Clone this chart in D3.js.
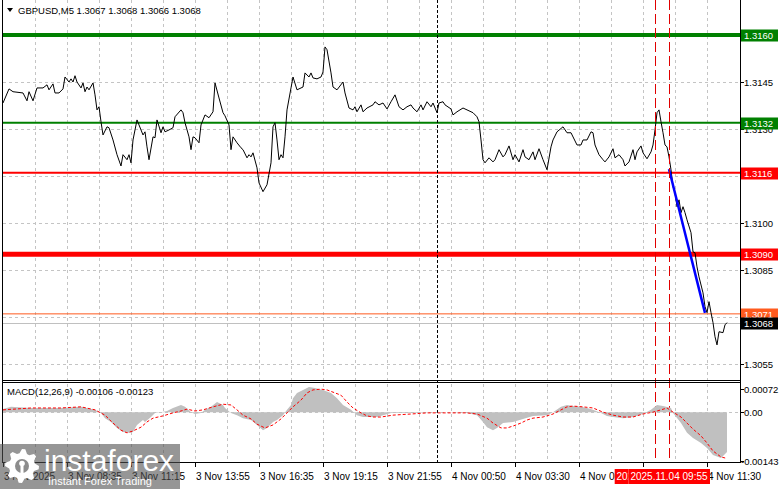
<!DOCTYPE html>
<html><head><meta charset="utf-8">
<script src="https://cdn.jsdelivr.net/npm/d3@7"></script>
<style>
body{margin:0;background:#fff}
svg{display:block}
text{font-family:"Liberation Sans",Arial,sans-serif}
</style>
</head><body>
<svg id="c" width="781" height="489"></svg>
<script>
// ---------- DATA ----------
const symbolTitle = "GBPUSD,M5  1.3067 1.3068 1.3066 1.3068";
const macdTitle = "MACD(12,26,9) -0.00106 -0.00123";

const priceBar = [0,3,5,10,12,13,15,17,20,22,23,25,26,28,30,31,33,34,35,36,37,39,40,41,42,43,45,46,47,48,49,50,52,53,55,57,59,60,62,63,64,65,67,70,71,72,73,75,76,77,79,80,81,83,85,86,89,90,91,93,94,95,96,98,99,101,103,105,106,108,110,111,113,114,115,117,119,120,122,123,124,125,127,128,130,132,134,135,136,137,138,139,140,141,142,144,145,147,150,151,153,154,155,157,159,160,161,162,164,165,167,170,171,173,175,176,177,179,180,182,185,186,188,190,192,194,196,198,200,202,204,205,207,209,210,212,214,215,217,218,220,221,224,225,227,230,232,235,237,238,239,240,241,243,245,246,248,250,251,253,255,256,258,260,261,263,265,266,268,270,272,274,275,277,280,282,284,287,289,290,292,294,295,296,298,300,301,303,305,306,308,310,311,313,315,316,317,319,320,322,324,325,326,327,328,329,330,331,332,333,334,335,336,337,338,339,340,341,342,344,345,346,347,348,350,351,352,353,354,355,356,357,358,360,361,362];
const priceClose = [1.31383,1.31428,1.31419,1.31415,1.31390,1.31419,1.31390,1.31431,1.31431,1.31441,1.31425,1.31444,1.31415,1.31415,1.31428,1.31466,1.31450,1.31460,1.31450,1.31470,1.31450,1.31431,1.31447,1.31419,1.31434,1.31425,1.31447,1.31409,1.31361,1.31371,1.31323,1.31281,1.31307,1.31304,1.31265,1.31218,1.31182,1.31218,1.31202,1.31218,1.31192,1.31265,1.31329,1.31281,1.31291,1.31243,1.31202,1.31275,1.31272,1.31329,1.31288,1.31307,1.31291,1.31297,1.31304,1.31339,1.31361,1.31352,1.31320,1.31275,1.31234,1.31275,1.31272,1.31256,1.31313,1.31345,1.31336,1.31355,1.31447,1.31399,1.31352,1.31342,1.31313,1.31234,1.31275,1.31256,1.31240,1.31234,1.31208,1.31218,1.31211,1.31224,1.31176,1.31128,1.31100,1.31122,1.31192,1.31307,1.31320,1.31265,1.31202,1.31218,1.31208,1.31275,1.31361,1.31431,1.31466,1.31425,1.31434,1.31479,1.31466,1.31479,1.31463,1.31460,1.31466,1.31482,1.31562,1.31553,1.31479,1.31434,1.31425,1.31450,1.31415,1.31367,1.31361,1.31371,1.31355,1.31377,1.31355,1.31367,1.31377,1.31387,1.31377,1.31383,1.31364,1.31387,1.31409,1.31371,1.31361,1.31371,1.31377,1.31367,1.31355,1.31377,1.31361,1.31387,1.31371,1.31383,1.31352,1.31383,1.31387,1.31377,1.31364,1.31345,1.31355,1.31367,1.31361,1.31352,1.31339,1.31323,1.31265,1.31202,1.31192,1.31208,1.31195,1.31202,1.31234,1.31211,1.31218,1.31246,1.31202,1.31218,1.31195,1.31234,1.31211,1.31202,1.31227,1.31202,1.31237,1.31202,1.31170,1.31243,1.31265,1.31291,1.31307,1.31288,1.31288,1.31249,1.31249,1.31265,1.31265,1.31291,1.31288,1.31249,1.31218,1.31202,1.31195,1.31211,1.31237,1.31208,1.31218,1.31202,1.31182,1.31195,1.31234,1.31202,1.31227,1.31246,1.31224,1.31205,1.31227,1.31249,1.31297,1.31352,1.31361,1.31323,1.31288,1.31249,1.31243,1.31211,1.31170,1.31116,1.31096,1.31052,1.31074,1.31033,1.31052,1.31033,1.31010,1.30969,1.30908,1.30905,1.30860,1.30828,1.30777,1.30733,1.30714,1.30749,1.30714,1.30682,1.30637,1.30611,1.30653,1.30650,1.30675,1.30682];

const histBar = [0,4,14,29,39,46,49,51,54,57,60,63,65,67,70,71,74,76,79,82,85,89,91,94,96,99,101,104,107,110,111,114,117,120,124,127,130,132,135,137,140,142,144,145,147,150,153,156,160,164,167,170,174,177,180,184,187,190,194,205,219,222,232,237,240,242,245,247,250,255,260,265,272,275,279,282,285,289,292,295,299,302,305,310,315,320,324,327,330,334,335,339,342,345,349,352,355,359,362];
const histVal = [0.00008,0.00014,0.00011,0.00011,0.00014,0.00006,-0.00002,-0.00016,-0.00026,-0.00042,-0.00053,-0.00055,-0.00053,-0.00034,-0.00021,-0.00026,-0.00013,-0.00002,0.00000,0.00003,0.00011,0.00019,0.00014,0.00000,-0.00005,-0.00002,0.00006,0.00014,0.00027,0.00019,0.00011,-0.00002,-0.00008,-0.00016,-0.00021,-0.00034,-0.00048,-0.00042,-0.00026,-0.00021,-0.00008,0.00006,0.00019,0.00037,0.00051,0.00059,0.00067,0.00064,0.00059,0.00051,0.00037,0.00019,0.00006,-0.00008,-0.00013,-0.00013,-0.00013,-0.00008,-0.00002,-0.00002,0.00000,0.00000,-0.00002,-0.00008,-0.00026,-0.00040,-0.00048,-0.00042,-0.00029,-0.00026,-0.00018,-0.00010,-0.00008,0.00000,0.00014,0.00019,0.00016,0.00014,0.00011,0.00006,-0.00002,-0.00010,-0.00013,-0.00016,-0.00013,-0.00005,0.00006,0.00019,0.00016,0.00011,-0.00002,-0.00029,-0.00055,-0.00069,-0.00082,-0.00095,-0.00114,-0.00122,-0.00106];

const sigBar = [0,14,29,39,46,51,55,59,62,65,69,72,75,80,85,89,92,96,100,105,110,114,117,120,124,127,131,135,139,142,145,149,152,155,159,162,165,169,172,175,179,182,185,189,195,204,212,220,225,232,237,242,245,249,252,255,259,262,265,270,275,279,282,285,290,295,300,305,310,315,320,325,329,332,335,339,342,345,349,352,355,359,362];
const sigVal = [0.00006,0.00011,0.00011,0.00014,0.00006,-0.00008,-0.00029,-0.00048,-0.00055,-0.00050,-0.00040,-0.00026,-0.00016,-0.00010,-0.00002,0.00003,0.00008,0.00003,0.00006,0.00014,0.00021,0.00019,0.00006,-0.00008,-0.00018,-0.00032,-0.00042,-0.00034,-0.00018,-0.00002,0.00014,0.00032,0.00051,0.00059,0.00061,0.00059,0.00053,0.00045,0.00027,0.00011,-0.00002,-0.00010,-0.00013,-0.00013,-0.00008,-0.00005,-0.00002,-0.00002,-0.00002,-0.00002,-0.00005,-0.00016,-0.00029,-0.00042,-0.00042,-0.00037,-0.00029,-0.00021,-0.00016,-0.00013,-0.00005,0.00006,0.00014,0.00016,0.00014,0.00011,0.00000,-0.00008,-0.00013,-0.00013,-0.00005,0.00000,0.00006,0.00011,0.00000,-0.00013,-0.00029,-0.00045,-0.00063,-0.00082,-0.00103,-0.00119,-0.00123];

const levelPrices = [1.3160, 1.3132, 1.3116, 1.3090, 1.3071];
const currentPrice = 1.3068;
const priceTicks = [1.3160, 1.3145, 1.3130, 1.3115, 1.3100, 1.3085, 1.3070, 1.3055];
const timeTickBars = [0,32,64,96,128,160,192,224,256,288,320,352];
const timeTickLabels = ["3 Nov 2025","3 Nov 08:35","3 Nov 11:15","3 Nov 13:55","3 Nov 16:35","3 Nov 19:15","3 Nov 21:55","4 Nov 00:50","4 Nov 03:30","4 Nov 06:10","","4 Nov 11:30"];
const macdTicks = [0.00072, 0, -0.00143];
const macdTickLabels = ["0.00072", "0.00", "-0.00143"];
const markerBars = [326, 333];
const markerLabels = ["2025.11.04 09:20", "2025.11.04 09:55"];
const daySeparatorBar = 217;
const forecastBars = [333, 351];
const forecastPrices = [1.31172, 1.30713];

// ---------- LAYOUT / STYLE ----------
const L = 3, R = 740, mainTop = 0, mainBot = 380, macdTop = 383, macdBot = 462;
const levelStyle = [
  {c:"#008000", w:4}, {c:"#008000", w:2}, {c:"#ff0000", w:2}, {c:"#ff0000", w:5}, {c:"#ff5a1e", w:1}
];
const gridColor = "#c4c4c4";
const macdLabelY = [389, 412, 461];

const svg = d3.select("#c");
const x = d3.scaleLinear().domain([0, 362]).range([3, 727]);
const y = d3.scaleLinear().domain([1.3055, 1.3160]).range([364, 35]);
const m = d3.scaleLinear().domain([-0.00143, 0.00072]).range([466, 385]);

const defs = svg.append("defs");
defs.append("clipPath").attr("id","cm").append("rect").attr("x",L).attr("y",mainTop).attr("width",R-L).attr("height",mainBot-mainTop);
defs.append("clipPath").attr("id","cd").append("rect").attr("x",L).attr("y",macdTop).attr("width",R-L).attr("height",macdBot-macdTop);

// grid
const gridBars = d3.range(16, 362, 16);
const g = svg.append("g");
g.selectAll(".vg").data(gridBars).join("line")
  .attr("x1", d=>Math.round(x(d))+0.5).attr("x2", d=>Math.round(x(d))+0.5)
  .attr("y1", mainTop).attr("y2", macdBot)
  .attr("stroke", gridColor).attr("stroke-dasharray","3,3");
g.selectAll(".hg").data(priceTicks).join("line")
  .attr("x1", L).attr("x2", R)
  .attr("y1", d=>Math.round(y(d))+0.5).attr("y2", d=>Math.round(y(d))+0.5)
  .attr("stroke", gridColor).attr("stroke-dasharray","3,3");
g.append("line").attr("x1",L).attr("x2",R)
  .attr("y1",Math.round(m(0))+0.5).attr("y2",Math.round(m(0))+0.5)
  .attr("stroke",gridColor).attr("stroke-dasharray","3,3");

// main panel content
const main = svg.append("g").attr("clip-path","url(#cm)");
main.selectAll(".lvl").data(levelPrices).join("line")
  .attr("x1", L).attr("x2", R)
  .attr("y1", d=>y(d)).attr("y2", d=>y(d))
  .attr("stroke", (d,i)=>levelStyle[i].c).attr("stroke-width",(d,i)=>levelStyle[i].w);
main.append("line").attr("x1",L).attr("x2",R)
  .attr("y1",Math.round(y(currentPrice))+0.5).attr("y2",Math.round(y(currentPrice))+0.5)
  .attr("stroke","#c0c0c0");

// vertical markers (both panels)
const vm = svg.append("g");
vm.selectAll("line").data(markerBars).join("line")
  .attr("x1", d=>Math.round(x(d))+0.5).attr("x2", d=>Math.round(x(d))+0.5)
  .attr("y1", mainTop).attr("y2", macdBot)
  .attr("stroke","#e00000").attr("stroke-dasharray","10,4");
vm.append("line")
  .attr("x1", Math.round(x(daySeparatorBar))+0.5).attr("x2", Math.round(x(daySeparatorBar))+0.5)
  .attr("y1", mainTop).attr("y2", macdBot)
  .attr("stroke","#000").attr("stroke-dasharray","3,2");

const pts = priceBar.map((b,i)=>[b, priceClose[i]]);
main.append("path").datum(pts)
  .attr("d", d3.line().x(d=>x(d[0])).y(d=>y(d[1])))
  .attr("fill","none").attr("stroke","#000").attr("stroke-width",1);
const fpts = forecastBars.map((b,i)=>[b, forecastPrices[i]]);
main.append("path").datum(fpts)
  .attr("d", d3.line().x(d=>x(d[0])).y(d=>y(d[1])))
  .attr("fill","none").attr("stroke","#0000ff").attr("stroke-width",2.5);

// MACD
const md = svg.append("g").attr("clip-path","url(#cd)");
const hp = histBar.map((b,i)=>[b, histVal[i]]);
md.append("path").datum(hp)
  .attr("d", d3.area().x(d=>x(d[0])).y0(m(0)).y1(d=>m(d[1])))
  .attr("fill","#c0c0c0");
const sp = sigBar.map((b,i)=>[b, sigVal[i]]);
md.append("path").datum(sp)
  .attr("d", d3.line().x(d=>x(d[0])).y(d=>m(d[1])))
  .attr("fill","none").attr("stroke","#ff0000").attr("stroke-width",1).attr("stroke-dasharray","3,2");

// frames
const fr = svg.append("g").attr("stroke","#000").attr("fill","none");
fr.append("line").attr("x1",L-0.5).attr("x2",L-0.5).attr("y1",0).attr("y2",macdBot);
fr.append("line").attr("x1",R+0.5).attr("x2",R+0.5).attr("y1",0).attr("y2",macdBot+0.5);
fr.append("line").attr("x1",L-1).attr("x2",R+1).attr("y1",mainBot+0.5).attr("y2",mainBot+0.5);
fr.append("line").attr("x1",L-1).attr("x2",R+1).attr("y1",macdTop-0.5).attr("y2",macdTop-0.5);
fr.append("line").attr("x1",L-1).attr("x2",R+1).attr("y1",macdBot+0.5).attr("y2",macdBot+0.5);

// right price axis
const allLabels = levelPrices.map((p,i)=>({p, c:levelStyle[i].c})).concat([{p:currentPrice, c:"#000"}]);
const hiddenTick = t => allLabels.some(l => Math.abs(y(l.p) - y(t)) < 5);
const ra = svg.append("g");
ra.selectAll("line").data(priceTicks).join("line")
  .attr("x1",R).attr("x2",R+4).attr("y1",d=>Math.round(y(d))+0.5).attr("y2",d=>Math.round(y(d))+0.5)
  .attr("stroke","#000");
ra.selectAll("text").data(priceTicks.filter(t=>!hiddenTick(t))).join("text")
  .attr("x",R+4).attr("y",d=>y(d)+3.5).attr("font-size","9.5px").attr("fill","#000")
  .text(d=>d.toFixed(4));

// level labels
const lb = svg.append("g");
allLabels.forEach(d=>{
  const yy = Math.round(y(d.p));
  lb.append("rect").attr("x",R+1).attr("y",yy-5.5).attr("width",37).attr("height",12).attr("fill",d.c);
  lb.append("text").attr("x",R+4).attr("y",yy+4).attr("font-size","9.5px").attr("fill","#fff").text(d.p.toFixed(4));
});

// MACD axis
const mxa = svg.append("g");
mxa.selectAll("line").data(macdTicks).join("line")
  .attr("x1",R).attr("x2",R+4).attr("y1",(d,i)=>macdLabelY[i]+0.5).attr("y2",(d,i)=>macdLabelY[i]+0.5).attr("stroke","#000");
mxa.selectAll("text").data(macdTicks).join("text")
  .attr("x",(d)=>d<0?R+1:R+4)
  .attr("y",(d,i)=>macdLabelY[i]+3.5)
  .attr("font-size","9.5px").text((d,i)=>macdTickLabels[i]);

// time axis
const ta = svg.append("g");
ta.selectAll("line").data(timeTickBars).join("line")
  .attr("x1",d=>Math.round(x(d))+0.5).attr("x2",d=>Math.round(x(d))+0.5)
  .attr("y1",macdBot).attr("y2",macdBot+5).attr("stroke","#000");
ta.selectAll("text").data(timeTickBars.filter((d,i)=>timeTickLabels[i])).join("text")
  .attr("x",d=>Math.round(x(d))+1).attr("y",480).attr("font-size","10px")
  .text(d=>timeTickLabels[timeTickBars.indexOf(d)]);

// marker date labels (second one drawn over the first, as in the terminal)
const boxes = markerBars.map((b,i)=>{
  const t = svg.append("text").attr("font-size","10px").attr("text-anchor","middle")
    .attr("x",x(b)).attr("y",480).text(markerLabels[i]);
  const bb = t.node().getBBox(); t.remove();
  return {x:bb.x-2, w:bb.width+4, cx:x(b)};
});
defs.append("clipPath").attr("id","cfirst").append("rect")
  .attr("x",boxes[0].x).attr("y",465).attr("width",boxes[1].x-boxes[0].x).attr("height",24);
markerBars.forEach((b,i)=>{
  const grp = svg.append("g");
  if (i===0) grp.attr("clip-path","url(#cfirst)");
  grp.append("rect").attr("x",boxes[i].x).attr("y",469).attr("width",boxes[i].w).attr("height",15).attr("fill","#ff0000");
  grp.append("text").attr("font-size","10px").attr("fill","#fff").attr("text-anchor","middle")
    .attr("x",boxes[i].cx).attr("y",480).text(markerLabels[i]);
});

// title
svg.append("path").attr("d","M7,8 L13,8 L10,12 Z").attr("fill","#000");
svg.append("text").attr("x",18).attr("y",14).attr("font-size","9.5px").text(symbolTitle);
svg.append("text").attr("x",7).attr("y",395).attr("font-size","9.5px").text(macdTitle);

// logo
const lg = svg.append("g");
lg.append("rect").attr("x",0).attr("y",444).attr("width",180).attr("height",45).attr("fill","rgba(80,80,80,0.6)");
const gc = [22, 466];
const teeth = 8, rO = 17, rI = 13;
let gp = "";
for (let k=0;k<teeth*4;k++){
  const a = (k/(teeth*4))*2*Math.PI;
  const r = (Math.floor(k/2)%2===0) ? rO : rI;
  gp += (k===0?"M":"L") + (gc[0]+r*Math.cos(a)).toFixed(1) + "," + (gc[1]+r*Math.sin(a)).toFixed(1);
}
gp += "Z";
lg.append("path").attr("d",gp).attr("fill","#fff");
lg.append("circle").attr("cx",gc[0]).attr("cy",gc[1]).attr("r",7).attr("fill","#8c8c8c");
lg.append("circle").attr("cx",gc[0]).attr("cy",gc[1]-2.5).attr("r",2.8).attr("fill","#fff");
lg.append("rect").attr("x",gc[0]-1.5).attr("y",gc[1]).attr("width",3).attr("height",9).attr("fill","#fff");
lg.append("text").attr("x",44).attr("y",471).attr("font-family","'Open Sans',sans-serif").attr("font-size","30px").attr("fill","#fff").text("instaforex");
lg.append("text").attr("x",48).attr("y",485).attr("font-family","'Open Sans',sans-serif").attr("font-size","11px").attr("fill","#fff").text("Instant Forex Trading");
</script>
</body></html>
